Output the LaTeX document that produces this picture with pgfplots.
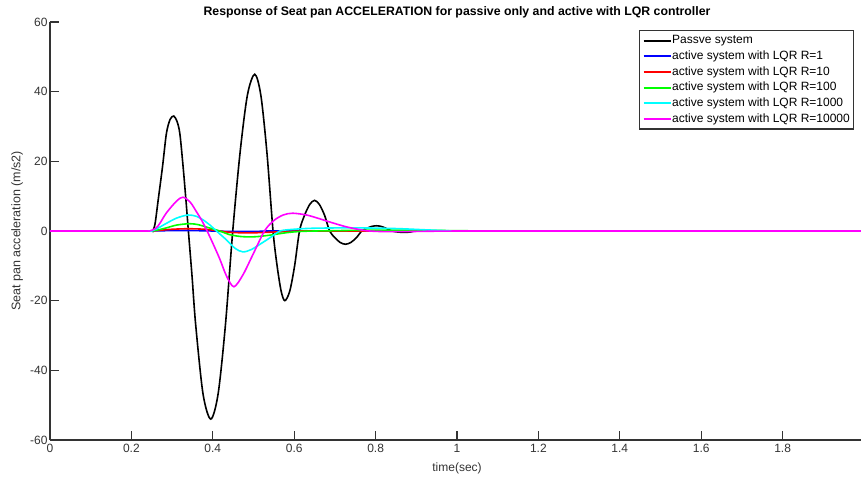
\documentclass[border=0pt]{standalone}
\usepackage{fontspec}
\setmainfont{Liberation Sans}
\usepackage{pgfplots}
\pgfplotsset{compat=1.18}
\usetikzlibrary{calc}
\definecolor{axgray}{rgb}{0.2,0.2,0.2}
\definecolor{mblue}{rgb}{0,0,1}
\definecolor{mred}{rgb}{1,0,0}
\definecolor{mgreen}{rgb}{0,1,0}
\definecolor{mcyan}{rgb}{0,1,1}
\definecolor{mmagenta}{rgb}{1,0,1}
\begin{document}
\begin{tikzpicture}
\begin{axis}[
  scale only axis, width=814pt, height=418pt,
  xmin=0, xmax=2, ymin=-60, ymax=60,
  axis x line=bottom, axis y line=left,
  axis line style={-, line width=1.3pt, draw=axgray},
  tick style={line width=1.1pt, draw=axgray},
  tick align=inside, major tick length=8.5pt,
  xtick={0,0.2,0.4,0.6,0.8,1,1.2,1.4,1.6,1.8,2},
  ytick={-60,-40,-20,0,20,40,60},
  /pgf/number format/assume math mode=true,
  ticklabel style={font=\fontsize{12}{12}\selectfont, text=axgray},
  xticklabel style={yshift=-1pt},
  yticklabel style={xshift=1pt},
  xlabel={time(sec)},
  ylabel={Seat pan acceleration (m/s2)},
  every axis x label/.style={at={(axis description cs:0.5,0)}, anchor=base, yshift=-31pt, font=\fontsize{12}{12}\selectfont, text=axgray},
  every axis y label/.style={at={(axis description cs:-0.0405,0.5)}, anchor=center, rotate=90, font=\fontsize{12.5}{12.5}\selectfont, text=axgray},
  title={\bfseries Response of Seat pan ACCELERATION for passive only and active with LQR controller},
  every axis title/.style={at={(axis description cs:0.5,1)}, anchor=base, yshift=6pt, font=\fontsize{12.3}{12.3}\selectfont},
  legend style={at={(1,1)}, anchor=north east, xshift=-10pt, yshift=-8pt,
    draw=axgray, line width=1.3pt, fill=white,
    font=\fontsize{12}{12}\selectfont,
    nodes={inner xsep=0.5pt, inner ysep=1.6pt, text height=9.5pt, text depth=3pt},
    row sep=0pt, column sep=0pt},
  legend cell align=left,
  legend image code/.code={\draw[line width=2pt,#1] (0pt,0pt) -- (27pt,0pt);},
  every axis plot/.append style={line width=1.6pt, smooth, tension=0.5},
]
\addplot[draw=black] coordinates {(0,0)(0.2,0)(0.248,0)(0.252,0)(0.258,2)(0.2658,8.9)(0.2765,18.5)(0.286,28)(0.295,32)(0.304,33)(0.312,31.5)(0.319,28)(0.327,18.5)(0.334,8.9)(0.340,0)(0.349,-13)(0.358,-27)(0.376,-46.8)(0.395,-54)(0.413,-46.8)(0.431,-27)(0.449,0)(0.467,22.5)(0.485,39)(0.503,45)(0.518,39)(0.533,22.5)(0.548,0)(0.558,-10)(0.568,-17.3)(0.577,-20)(0.589,-17.3)(0.601,-10)(0.613,0)(0.625,4.4)(0.638,7.6)(0.65,8.8)(0.662,7.6)(0.675,4.4)(0.687,0)(0.7,-1.9)(0.713,-3.3)(0.726,-3.8)(0.739,-3.3)(0.753,-1.9)(0.766,0)(0.778,0.75)(0.79,1.3)(0.802,1.5)(0.814,1.3)(0.826,0.75)(0.84,0)(0.855,-0.3)(0.87,-0.4)(0.885,-0.3)(0.9,0)(0.95,0.05)(1,0)(1.5,0)(2,0)};
\addlegendentry{Passve system}
\addplot[draw=mblue] coordinates {(0,0)(0.2,0)(0.245,0)(0.25,0)(0.28,0.08)(0.32,0.15)(0.36,0.1)(0.4,0)(0.45,-0.15)(0.5,-0.12)(0.55,0)(0.6,0)(1.5,0)(2,0)};
\addlegendentry{active system with LQR R=1}
\addplot[draw=mred] coordinates {(0,0)(0.2,0)(0.245,0)(0.25,0)(0.27,0.2)(0.3,0.5)(0.34,0.65)(0.38,0.5)(0.41,0.1)(0.44,-0.35)(0.48,-0.55)(0.52,-0.45)(0.57,-0.2)(0.62,0)(0.7,0)(1.5,0)(2,0)};
\addlegendentry{active system with LQR R=10}
\addplot[draw=mgreen] coordinates {(0,0)(0.2,0)(0.245,0)(0.25,0)(0.265,0.3)(0.286,0.9)(0.311,1.7)(0.343,2.1)(0.365,1.8)(0.385,1.1)(0.417,0)(0.44,-1.0)(0.466,-1.55)(0.49,-1.7)(0.51,-1.6)(0.54,-1.2)(0.58,-0.5)(0.62,-0.1)(0.7,0.1)(0.8,0.25)(0.9,0.2)(1.0,0.1)(1.1,0)(1.5,0)(2,0)};
\addlegendentry{active system with LQR R=100}
\addplot[draw=mcyan] coordinates {(0,0)(0.2,0)(0.245,0)(0.25,0)(0.265,0.8)(0.286,2.2)(0.311,3.7)(0.339,4.6)(0.36,4.2)(0.376,3.2)(0.393,1.7)(0.409,0)(0.434,-2.6)(0.455,-5)(0.474,-6)(0.495,-5.3)(0.52,-3.5)(0.545,-1.6)(0.565,0)(0.6,0.5)(0.65,0.8)(0.75,0.9)(0.85,0.7)(0.93,0.3)(1.0,0)(1.1,0)(1.5,0)(2,0)};
\addlegendentry{active system with LQR R=1000}
\addplot[draw=mmagenta] coordinates {(0,0)(0.2,0)(0.24,0)(0.245,0)(0.26,0.8)(0.27,2.2)(0.286,5.2)(0.311,8.6)(0.327,9.7)(0.345,8.2)(0.36,5.5)(0.373,3)(0.386,0)(0.40,-3.5)(0.417,-8)(0.434,-13)(0.452,-16)(0.474,-12.6)(0.498,-6.9)(0.527,0)(0.55,3.0)(0.573,4.6)(0.596,5.1)(0.63,4.6)(0.66,3.6)(0.687,2.6)(0.728,1.2)(0.77,0.2)(0.8,-0.1)(0.85,-0.2)(0.95,-0.05)(1.05,0)(1.5,0)(2,0)};
\addlegendentry{active system with LQR R=10000}
\end{axis}
\pgfresetboundingbox
\path[use as bounding box] ($(current axis.south west)+(-50pt,-41pt)$) rectangle ($(current axis.north east)+(-3pt,22pt)$);
\end{tikzpicture}
\end{document}
